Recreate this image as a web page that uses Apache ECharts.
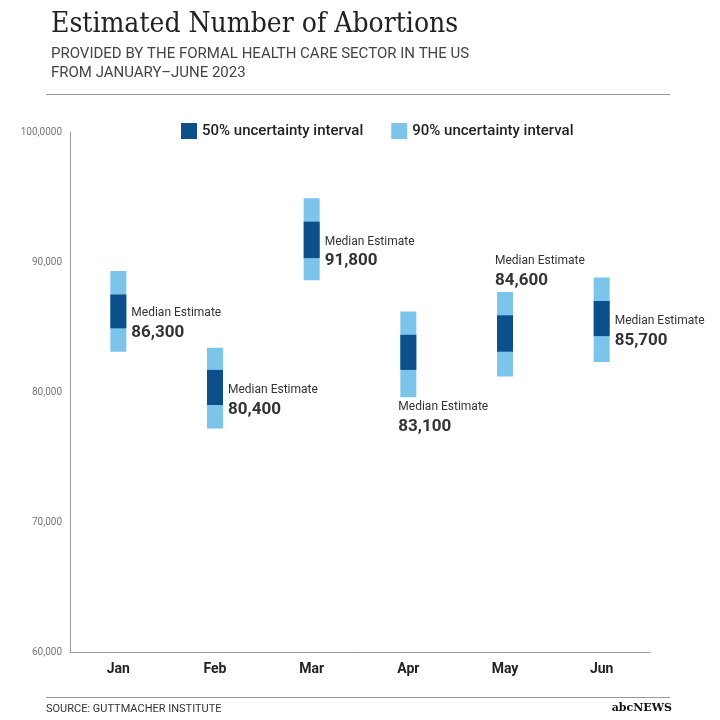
<!DOCTYPE html>
<html><head><meta charset="utf-8">
<script src="https://cdn.jsdelivr.net/npm/echarts@6/dist/echarts.min.js"></script>
<style>html,body{margin:0;background:#fff}#c{width:720px;height:720px}</style>
</head><body><div id="c"></div>
<script>
const months = ["Jan", "Feb", "Mar", "Apr", "May", "Jun"];
const medians = [86300, 80400, 91800, 83100, 84600, 85700];
const low90 = [83100, 77200, 88600, 79600, 81200, 82300];
const high90 = [89300, 83400, 94900, 86200, 87700, 88800];
const low50 = [84900, 79000, 90300, 81700, 83100, 84300];
const high50 = [87500, 81700, 93100, 84400, 85900, 87000];
const labelPos = ["right", "right", "right", "below", "above", "right"];
const yTicks = {60000: "60,000", 70000: "70,000", 80000: "80,000", 90000: "90,000", 100000: "100,0000"};

var chart = echarts.init(document.getElementById('c'));
var data = months.map((m, i) => [i, low90[i], high90[i], low50[i], high50[i], medians[i]]);

function fmt(v) { return v.toLocaleString('en-US'); }

chart.setOption({
  animation: false,
  title: {
    text: 'Estimated Number of Abortions',
    subtext: 'PROVIDED BY THE FORMAL HEALTH CARE SECTOR IN THE US\nFROM JANUARY–JUNE 2023',
    left: 46, top: 6, itemGap: 6,
    textStyle: {fontFamily: 'DejaVu Serif Condensed', fontWeight: 'normal', fontSize: 28, color: '#222'},
    subtextStyle: {fontFamily: 'Roboto', fontSize: 15, color: '#444', lineHeight: 19}
  },
  legend: {
    top: 118, left: 176, itemGap: 28, itemWidth: 16, itemHeight: 16,
    textStyle: {fontFamily: 'Roboto', fontSize: 15, fontWeight: 500, color: '#222'},
    data: [{name: '50% uncertainty interval', icon: 'rect', itemStyle: {color: '#0d4f8b'}},
           {name: '90% uncertainty interval', icon: 'rect', itemStyle: {color: '#7cc4ea'}}]
  },
  grid: {left: 70, right: 70, top: 132, bottom: 68},
  xAxis: {
    type: 'category', data: months,
    axisLine: {lineStyle: {color: '#999'}}, axisTick: {show: false},
    axisLabel: {color: '#222', fontWeight: 'bold', fontFamily: 'Roboto', fontSize: 14, margin: 10}
  },
  yAxis: {
    type: 'value', min: 60000, max: 100000, interval: 10000,
    axisLine: {show: true, lineStyle: {color: '#999'}}, axisTick: {show: false},
    splitLine: {show: false},
    axisLabel: {color: '#777', fontSize: 10, fontFamily: 'Roboto', formatter: v => yTicks[v] || ''}
  },
  graphic: [
    {type: 'rect', shape: {x: 46, y: 94, width: 624, height: 1}, style: {fill: '#999'}},
    {type: 'rect', shape: {x: 46, y: 697, width: 624, height: 1}, style: {fill: '#999'}},
    {type: 'text', left: 46, top: 704, style: {text: 'SOURCE: GUTTMACHER INSTITUTE', fontSize: 11, fill: '#333', fontFamily: 'Roboto'}},
    {type: 'text', right: 48, top: 703, style: {text: 'abcNEWS', fontSize: 11, fontWeight: 'bold', fill: '#111', fontFamily: 'DejaVu Serif'}}
  ],
  series: [
    {name: '50% uncertainty interval', type: 'bar', data: []},
    {name: '90% uncertainty interval', type: 'bar', data: []},
    {
      type: 'custom', data: data,
      renderItem: function (params, api) {
        var x = api.coord([api.value(0), 0])[0];
        var w = 16;
        var y90a = api.coord([0, api.value(2)])[1], y90b = api.coord([0, api.value(1)])[1];
        var y50a = api.coord([0, api.value(4)])[1], y50b = api.coord([0, api.value(3)])[1];
        var ym = api.coord([0, api.value(5)])[1];
        var i = params.dataIndex, pos = labelPos[i];
        var tx, ty;
        if (pos === 'right') { tx = x + w / 2 + 5; ty = ym - 3; }
        else if (pos === 'below') { tx = x - w / 2 - 2; ty = y90b + 4; }
        else { tx = x - w / 2 - 2; ty = y90a - 37; }
        return {type: 'group', children: [
          {type: 'rect', shape: {x: x - w / 2, y: y90a, width: w, height: y90b - y90a}, style: {fill: '#7cc4ea'}},
          {type: 'rect', shape: {x: x - w / 2, y: y50a, width: w, height: y50b - y50a}, style: {fill: '#0d4f8b'}},
          {type: 'text', x: tx, y: ty, style: {text: 'Median Estimate', fontSize: 12, fill: '#333', fontFamily: 'Roboto'}},
          {type: 'text', x: tx, y: ty + 17, style: {text: fmt(api.value(5)), fontSize: 17, fontWeight: 'bold', fill: '#333', fontFamily: 'Roboto'}}
        ]};
      }
    }
  ]
});
</script></body></html>
